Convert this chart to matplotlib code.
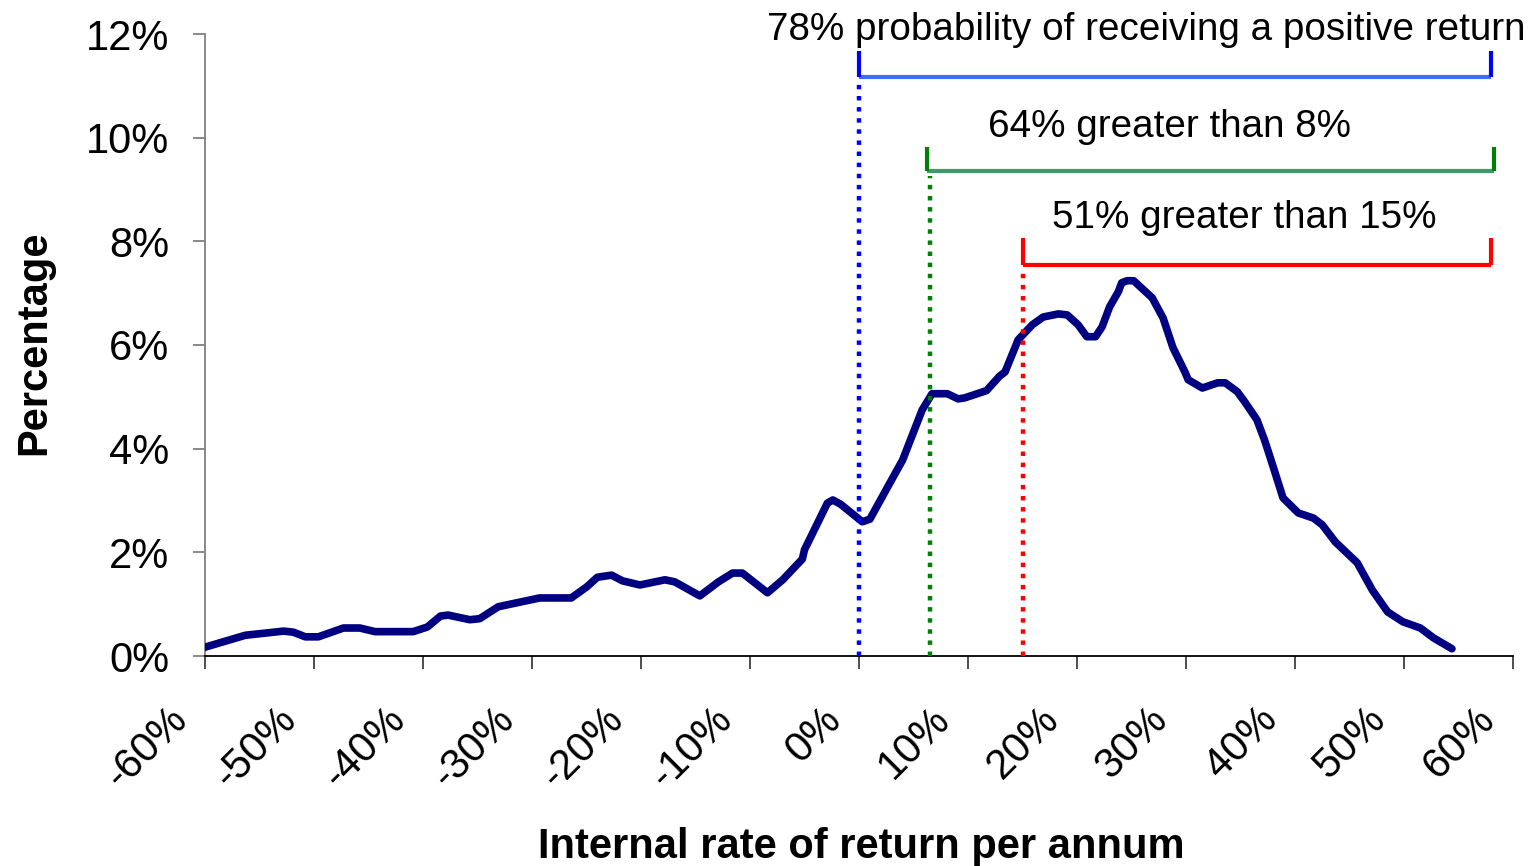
# -*-coding:utf-8-*-
import matplotlib
matplotlib.use('Agg')
import matplotlib.pyplot as plt
from matplotlib.transforms import ScaledTranslation

plt.rcParams['font.family'] = ['Liberation Sans', 'DejaVu Sans']

# distribution of internal rate of return (x in %, y in %)
irr = [-60.0, -56.3, -52.8, -51.9, -50.8, -49.6, -47.3, -45.8, -44.4, -40.9,
       -39.6, -38.4, -37.7, -35.7, -34.8, -33.1, -29.3, -26.4, -25.0, -24.0,
       -22.7, -21.7, -20.1, -17.8, -16.9, -14.6, -12.9, -11.6, -10.7, -8.4,
       -7.0, -5.2, -5.0, -2.9, -2.4, -1.7, 0.3, 1.0, 3.1, 4.0,
       5.8, 6.7, 8.1, 9.1, 9.7, 11.7, 12.9, 13.4, 14.6, 15.9,
       16.9, 18.3, 19.1, 20.1, 20.9, 21.7, 22.3, 23.0, 23.8, 24.1,
       24.6, 25.2, 26.9, 27.9, 28.8, 29.9, 30.2, 31.5, 32.9, 33.6,
       34.7, 35.4, 36.5, 37.2, 38.0, 38.9, 40.3, 41.7, 42.5, 43.7,
       45.7, 47.1, 48.5, 49.9, 51.5, 52.7, 54.4]
pct = [0.17, 0.40, 0.48, 0.46, 0.37, 0.37, 0.54, 0.54, 0.47, 0.47,
       0.56, 0.77, 0.79, 0.70, 0.72, 0.95, 1.12, 1.12, 1.33, 1.52,
       1.56, 1.45, 1.37, 1.47, 1.43, 1.16, 1.43, 1.60, 1.60, 1.22,
       1.47, 1.87, 2.05, 2.95, 3.01, 2.93, 2.59, 2.64, 3.44, 3.78,
       4.75, 5.06, 5.06, 4.96, 4.98, 5.12, 5.40, 5.48, 6.10, 6.39,
       6.54, 6.60, 6.58, 6.39, 6.16, 6.16, 6.35, 6.74, 7.03, 7.20,
       7.24, 7.24, 6.91, 6.52, 5.95, 5.48, 5.33, 5.17, 5.27, 5.27,
       5.10, 4.90, 4.56, 4.17, 3.65, 3.05, 2.76, 2.66, 2.53, 2.20,
       1.80, 1.27, 0.85, 0.66, 0.54, 0.35, 0.14]

xticks = list(range(-60, 61, 10))
yticks = list(range(0, 13, 2))

# threshold markers and brackets
labels = ['78% probability of receiving a positive return',
          '64% greater than 8%',
          '51% greater than 15%']
thresholds = [0.0, 6.5, 15.0]
bracket_left = [0.0, 6.2, 15.0]
bracket_right = [58.0, 58.3, 58.0]
bracket_y = [11.17, 9.36, 7.54]
bracket_top = [11.67, 9.82, 8.06]
dot_top = [11.1, 9.26, 7.49]
text_x = [-8.4, 11.8, 17.7]
text_y = [11.88, 10.01, 8.26]
dot_colors = ['#0000FF', '#008000', '#FF0000']
bar_colors = ['#3F6BFF', '#3C9B6B', '#FF0000']

fig = plt.figure(figsize=(15.28, 8.66), dpi=100)
ax = fig.add_axes([205 / 1528, 1 - 656 / 866, 1308 / 1528, 622 / 866])

ax.plot(irr, pct, color='#000080', lw=5.5, solid_joinstyle='round',
        solid_capstyle='round', zorder=3)

for i in range(3):
    ax.plot([thresholds[i], thresholds[i]], [0, dot_top[i]], color=dot_colors[i],
            lw=3.2, linestyle=(0, (1, 1.5)), dash_capstyle='butt', zorder=4)
    ax.plot([bracket_left[i], bracket_right[i]], [bracket_y[i], bracket_y[i]],
            color=bar_colors[i], lw=3, solid_capstyle='butt', zorder=4)
    for bx in (bracket_left[i], bracket_right[i]):
        ax.plot([bx, bx], [bracket_y[i], bracket_top[i]], color=dot_colors[i],
                lw=3, solid_capstyle='butt', zorder=4)
    ax.text(text_x[i], text_y[i], labels[i], fontsize=27.8, ha='left',
            va='baseline', clip_on=False)

ax.set_xlim(-60, 60)
ax.set_ylim(0, 12)
ax.set_xticks(xticks)
ax.set_xticklabels(['%d%%' % t for t in xticks], rotation=45, ha='right',
                   va='top', fontsize=30)
ax.set_yticks(yticks)
ax.set_yticklabels(['%d%%' % t for t in yticks], fontsize=30)

ax.spines['top'].set_visible(False)
ax.spines['right'].set_visible(False)
ax.spines['left'].set_color('#808080')
ax.spines['left'].set_linewidth(1.3)
ax.spines['bottom'].set_color('black')
ax.spines['bottom'].set_linewidth(1.3)
ax.tick_params(axis='y', direction='out', length=8.6, width=1.3,
               color='#808080', pad=17)
ax.tick_params(axis='x', direction='out', length=9.4, width=1.3,
               color='#404040', pad=22)

offset = ScaledTranslation(-10 / 100, 0, fig.dpi_scale_trans)
for lab in ax.get_xticklabels():
    lab.set_transform(lab.get_transform() + offset)

fig.text(861 / 1528, 1 - 858 / 866, 'Internal rate of return per annum',
         fontsize=30, fontweight='bold', ha='center', va='baseline')
fig.text(34 / 1528, 1 - 343 / 866, 'Percentage', fontsize=30,
         fontweight='bold', rotation=90, ha='center', va='center')

plt.savefig('out.png', dpi=100)
